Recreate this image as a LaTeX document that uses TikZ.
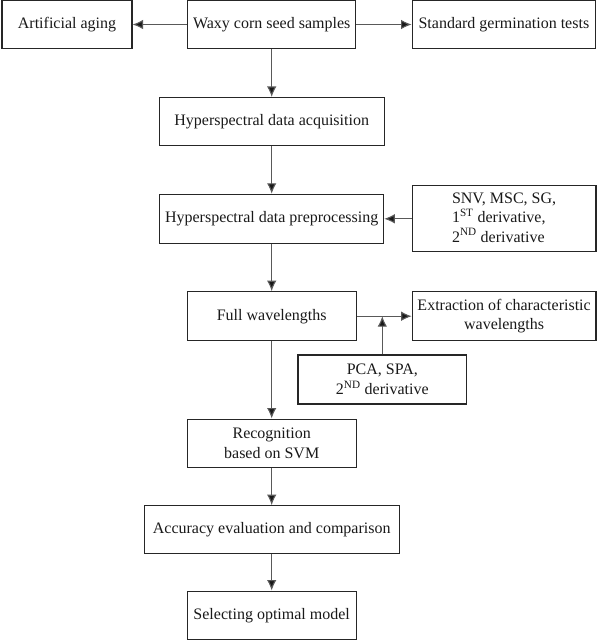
\documentclass[tikz,border=0pt]{standalone}
\usepackage{fontspec}
\setmainfont{Liberation Serif}
\usetikzlibrary{arrows.meta}
\begin{document}
\begin{tikzpicture}[x=1pt,y=-1pt,
  box/.style={draw=black!85, line width=1.1pt, rectangle, inner sep=0pt,
    font=\fontsize{16}{19.5}\selectfont, align=center, text=black!90},
  conn/.style={draw=black!65, line width=1.1pt, -{Latex[length=10.5pt,width=9.5pt,fill=black!90]}}]
\useasboundingbox (0,0) rectangle (600,640);
\node[box, minimum width=130pt, minimum height=47.5pt] (aging) at (67,24.5) {Artificial aging};
\node[box, minimum width=168.3pt, minimum height=47.5pt] (waxy) at (271.7,24.5) {Waxy corn seed samples};
\node[box, minimum width=183.5pt, minimum height=47.5pt] (standard) at (503.9,24.5) {Standard germination tests};
\node[box, minimum width=224.7pt, minimum height=48pt] (acq) at (271.7,121.5) {Hyperspectral data acquisition};
\node[box, minimum width=224pt, minimum height=49pt] (pre) at (271.7,218.8) {Hyperspectral data preprocessing};
\node[box, minimum width=183.7pt, minimum height=66pt] (snv) at (504.1,218.8)
  {\begin{tabular}{@{}l@{}}SNV, MSC, SG,\\1\textsuperscript{ST} derivative,\\2\textsuperscript{ND} derivative\end{tabular}};
\node[box, minimum width=168.7pt, minimum height=49pt] (full) at (271.7,316.2) {Full wavelengths};
\node[box, minimum width=183.7pt, minimum height=49pt] (extr) at (504.1,316.2) {Extraction of characteristic\\wavelengths};
\node[box, minimum width=168.7pt, minimum height=49pt] (pca) at (382.3,379.5) {PCA, SPA,\\2\textsuperscript{ND} derivative};
\node[box, minimum width=168.7pt, minimum height=48.3pt] (recog) at (271.7,443.2) {Recognition\\based on SVM};
\node[box, minimum width=255pt, minimum height=47.6pt] (acc) at (271.7,529.5) {Accuracy evaluation and comparison};
\node[box, minimum width=168.7pt, minimum height=48.3pt] (sel) at (271.7,615.2) {Selecting optimal model};
\coordinate (j) at (pca.north |- full.east);
\draw[conn] (waxy) -- (aging);
\draw[conn] (waxy) -- (standard);
\draw[conn] (waxy) -- (acq);
\draw[conn] (acq) -- (pre);
\draw[conn] (snv) -- (pre);
\draw[conn] (pre) -- (full);
\draw[conn] (full) -- (extr);
\draw[conn] (pca.north) -- (j);
\draw[conn] (full) -- (recog);
\draw[conn] (recog) -- (acc);
\draw[conn] (acc) -- (sel);
\end{tikzpicture}
\end{document}
